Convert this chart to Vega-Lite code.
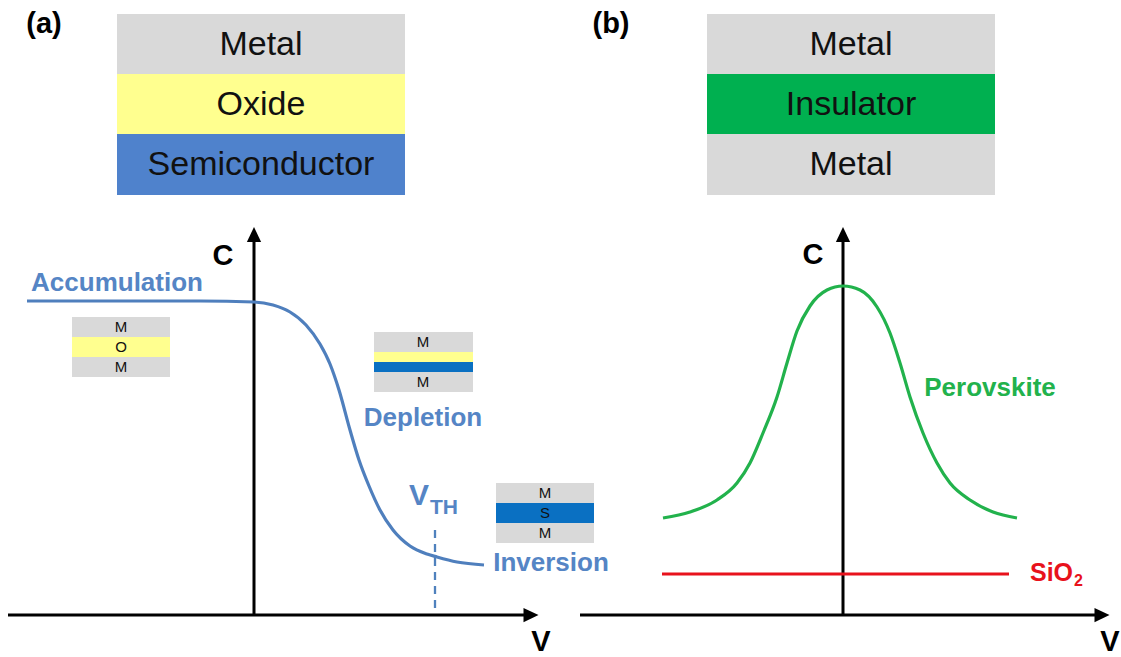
{
  "$schema": "https://vega.github.io/schema/vega-lite/v6.json",
  "width": 1121,
  "height": 657,
  "autosize": {"type": "fit", "contains": "padding"},
  "padding": 0,
  "background": "white",
  "config": {"view": {"stroke": null}, "text": {"font": "Liberation Sans"}},
  "datasets": {
    "blocks": [
      {"x1": 117, "x2": 405, "y1": 14, "y2": 74, "layer": "Metal"},
      {"x1": 117, "x2": 405, "y1": 74, "y2": 134, "layer": "Oxide"},
      {"x1": 117, "x2": 405, "y1": 134, "y2": 195, "layer": "Semiconductor"},
      {"x1": 707, "x2": 995, "y1": 14, "y2": 74, "layer": "Metal"},
      {"x1": 707, "x2": 995, "y1": 74, "y2": 134, "layer": "Insulator"},
      {"x1": 707, "x2": 995, "y1": 134, "y2": 195, "layer": "Metal"},
      {"x1": 72, "x2": 170, "y1": 317, "y2": 337, "layer": "Metal"},
      {"x1": 72, "x2": 170, "y1": 337, "y2": 357, "layer": "Oxide"},
      {"x1": 72, "x2": 170, "y1": 357, "y2": 377, "layer": "Metal"},
      {"x1": 374, "x2": 473, "y1": 332, "y2": 352, "layer": "Metal"},
      {"x1": 374, "x2": 473, "y1": 352, "y2": 362, "layer": "Oxide"},
      {"x1": 374, "x2": 473, "y1": 362, "y2": 372, "layer": "S"},
      {"x1": 374, "x2": 473, "y1": 372, "y2": 392, "layer": "Metal"},
      {"x1": 496, "x2": 594, "y1": 483, "y2": 503, "layer": "Metal"},
      {"x1": 496, "x2": 594, "y1": 503, "y2": 523, "layer": "S"},
      {"x1": 496, "x2": 594, "y1": 523, "y2": 543, "layer": "Metal"}
    ],
    "curves": [
      {"series": "MOS", "x": 27, "y": 301},
      {"series": "MOS", "x": 120, "y": 301},
      {"series": "MOS", "x": 200, "y": 301},
      {"series": "MOS", "x": 254, "y": 302},
      {"series": "MOS", "x": 273, "y": 305},
      {"series": "MOS", "x": 290, "y": 312},
      {"series": "MOS", "x": 306, "y": 325},
      {"series": "MOS", "x": 320, "y": 344},
      {"series": "MOS", "x": 330, "y": 364},
      {"series": "MOS", "x": 339, "y": 390},
      {"series": "MOS", "x": 350, "y": 430},
      {"series": "MOS", "x": 359, "y": 460},
      {"series": "MOS", "x": 369, "y": 486},
      {"series": "MOS", "x": 380, "y": 510},
      {"series": "MOS", "x": 393, "y": 530},
      {"series": "MOS", "x": 410, "y": 546},
      {"series": "MOS", "x": 427, "y": 554},
      {"series": "MOS", "x": 437, "y": 557},
      {"series": "MOS", "x": 457, "y": 562},
      {"series": "MOS", "x": 484, "y": 565},
      {"series": "Perovskite", "x": 663, "y": 518},
      {"series": "Perovskite", "x": 690, "y": 512},
      {"series": "Perovskite", "x": 717, "y": 500},
      {"series": "Perovskite", "x": 737, "y": 483},
      {"series": "Perovskite", "x": 750, "y": 463},
      {"series": "Perovskite", "x": 763, "y": 433},
      {"series": "Perovskite", "x": 777, "y": 397},
      {"series": "Perovskite", "x": 787, "y": 363},
      {"series": "Perovskite", "x": 797, "y": 331},
      {"series": "Perovskite", "x": 810, "y": 306},
      {"series": "Perovskite", "x": 827, "y": 290},
      {"series": "Perovskite", "x": 843, "y": 286},
      {"series": "Perovskite", "x": 860, "y": 290},
      {"series": "Perovskite", "x": 877, "y": 307},
      {"series": "Perovskite", "x": 890, "y": 333},
      {"series": "Perovskite", "x": 900, "y": 363},
      {"series": "Perovskite", "x": 910, "y": 397},
      {"series": "Perovskite", "x": 923, "y": 433},
      {"series": "Perovskite", "x": 937, "y": 463},
      {"series": "Perovskite", "x": 950, "y": 483},
      {"series": "Perovskite", "x": 970, "y": 500},
      {"series": "Perovskite", "x": 993, "y": 512},
      {"series": "Perovskite", "x": 1017, "y": 518},
      {"series": "SiO2", "x": 662, "y": 574},
      {"series": "SiO2", "x": 1009, "y": 574}
    ],
    "axes": [
      {"x": 8, "y": 615, "x2": 531, "y2": 615},
      {"x": 254, "y": 615, "x2": 254, "y2": 234},
      {"x": 580, "y": 615, "x2": 1102, "y2": 615},
      {"x": 843, "y": 615, "x2": 843, "y2": 234}
    ],
    "upArrows": [
      {"x": 254, "y": 234.5},
      {"x": 843, "y": 234.5}
    ],
    "rightArrows": [
      {"x": 531, "y": 615},
      {"x": 1102, "y": 615}
    ],
    "vth": [
      {"x": 435, "y": 530, "y2": 613}
    ],
    "bigLabels": [
      {"x": 261, "y": 45, "label": "Metal"},
      {"x": 261, "y": 105, "label": "Oxide"},
      {"x": 261, "y": 165, "label": "Semiconductor"},
      {"x": 851, "y": 45, "label": "Metal"},
      {"x": 851, "y": 105, "label": "Insulator"},
      {"x": 851, "y": 165, "label": "Metal"}
    ],
    "smallLabels": [
      {"x": 121, "y": 327, "label": "M"},
      {"x": 121, "y": 347, "label": "O"},
      {"x": 121, "y": 367, "label": "M"},
      {"x": 423, "y": 342, "label": "M"},
      {"x": 423, "y": 382, "label": "M"},
      {"x": 545, "y": 493, "label": "M"},
      {"x": 545, "y": 513, "label": "S"},
      {"x": 545, "y": 533, "label": "M"}
    ],
    "boldLabels": [
      {"x": 44, "y": 24, "label": "(a)"},
      {"x": 611, "y": 24, "label": "(b)"},
      {"x": 223, "y": 256, "label": "C"},
      {"x": 813, "y": 255, "label": "C"},
      {"x": 541, "y": 642, "label": "V"},
      {"x": 1110, "y": 642, "label": "V"}
    ],
    "regimes": [
      {"x": 117, "y": 283, "label": "Accumulation"},
      {"x": 423, "y": 418, "label": "Depletion"},
      {"x": 551, "y": 563, "label": "Inversion"}
    ],
    "vthMain": [{"x": 419, "y": 496, "label": "V"}],
    "vthSub": [{"x": 444, "y": 508, "label": "TH"}],
    "perov": [{"x": 990, "y": 388, "label": "Perovskite"}],
    "sio": [{"x": 1030, "y": 573, "label": "SiO"}],
    "sioSub": [{"x": 1074, "y": 581, "label": "2"}]
  },
  "layer": [
    {
      "data": {"name": "blocks"},
      "mark": {"type": "rect"},
      "encoding": {
        "x": {"field": "x1", "type": "quantitative", "scale": {"domain": [0, 1121], "nice": false, "zero": false}, "axis": null},
        "x2": {"field": "x2"},
        "y": {"field": "y1", "type": "quantitative", "scale": {"domain": [0, 657], "reverse": true, "nice": false, "zero": false}, "axis": null},
        "y2": {"field": "y2"},
        "fill": {"field": "layer", "type": "nominal", "scale": {"domain": ["Metal", "Oxide", "Semiconductor", "Insulator", "S"], "range": ["#d9d9d9", "#ffff8f", "#4f82cc", "#00b050", "#0a70c2"]}, "legend": null}
      }
    },
    {
      "data": {"name": "axes"},
      "mark": {"type": "rule", "color": "black", "strokeWidth": 3},
      "encoding": {
        "x": {"field": "x", "type": "quantitative"},
        "y": {"field": "y", "type": "quantitative"},
        "x2": {"field": "x2"},
        "y2": {"field": "y2"}
      }
    },
    {
      "data": {"name": "vth"},
      "mark": {"type": "rule", "color": "#4f81bd", "strokeWidth": 2.3, "strokeDash": [8, 6]},
      "encoding": {
        "x": {"field": "x", "type": "quantitative"},
        "y": {"field": "y", "type": "quantitative"},
        "y2": {"field": "y2"}
      }
    },
    {
      "data": {"name": "curves"},
      "mark": {"type": "line", "strokeWidth": 3.2, "interpolate": "monotone"},
      "encoding": {
        "x": {"field": "x", "type": "quantitative"},
        "y": {"field": "y", "type": "quantitative"},
        "stroke": {"field": "series", "type": "nominal", "scale": {"domain": ["MOS", "Perovskite", "SiO2"], "range": ["#4f7fbd", "#22b24c", "#e8121c"]}, "legend": null}
      }
    },
    {
      "data": {"name": "upArrows"},
      "mark": {"type": "point", "shape": "M0,-1L0.95,1L-0.95,1Z", "size": 225, "filled": true, "color": "black", "opacity": 1, "strokeWidth": 0},
      "encoding": {
        "x": {"field": "x", "type": "quantitative"},
        "y": {"field": "y", "type": "quantitative"}
      }
    },
    {
      "data": {"name": "rightArrows"},
      "mark": {"type": "point", "shape": "M1,0L-1,-0.95L-1,0.95Z", "size": 225, "filled": true, "color": "black", "opacity": 1, "strokeWidth": 0},
      "encoding": {
        "x": {"field": "x", "type": "quantitative"},
        "y": {"field": "y", "type": "quantitative"}
      }
    },
    {
      "data": {"name": "bigLabels"},
      "mark": {"type": "text", "fontSize": 34, "color": "#111111", "align": "center", "baseline": "middle"},
      "encoding": {
        "x": {"field": "x", "type": "quantitative"},
        "y": {"field": "y", "type": "quantitative"},
        "text": {"field": "label"}
      }
    },
    {
      "data": {"name": "smallLabels"},
      "mark": {"type": "text", "fontSize": 15, "color": "#111111", "align": "center", "baseline": "middle"},
      "encoding": {
        "x": {"field": "x", "type": "quantitative"},
        "y": {"field": "y", "type": "quantitative"},
        "text": {"field": "label"}
      }
    },
    {
      "data": {"name": "boldLabels"},
      "mark": {"type": "text", "fontSize": 29, "fontWeight": "bold", "color": "black", "align": "center", "baseline": "middle"},
      "encoding": {
        "x": {"field": "x", "type": "quantitative"},
        "y": {"field": "y", "type": "quantitative"},
        "text": {"field": "label"}
      }
    },
    {
      "data": {"name": "regimes"},
      "mark": {"type": "text", "fontSize": 26, "fontWeight": "bold", "color": "#5585c5", "align": "center", "baseline": "middle"},
      "encoding": {
        "x": {"field": "x", "type": "quantitative"},
        "y": {"field": "y", "type": "quantitative"},
        "text": {"field": "label"}
      }
    },
    {
      "data": {"name": "vthMain"},
      "mark": {"type": "text", "fontSize": 30, "fontWeight": "bold", "color": "#5585c5", "align": "center", "baseline": "middle"},
      "encoding": {
        "x": {"field": "x", "type": "quantitative"},
        "y": {"field": "y", "type": "quantitative"},
        "text": {"field": "label"}
      }
    },
    {
      "data": {"name": "vthSub"},
      "mark": {"type": "text", "fontSize": 21, "fontWeight": "bold", "color": "#5585c5", "align": "center", "baseline": "middle"},
      "encoding": {
        "x": {"field": "x", "type": "quantitative"},
        "y": {"field": "y", "type": "quantitative"},
        "text": {"field": "label"}
      }
    },
    {
      "data": {"name": "perov"},
      "mark": {"type": "text", "fontSize": 26, "fontWeight": "bold", "color": "#22b24c", "align": "center", "baseline": "middle"},
      "encoding": {
        "x": {"field": "x", "type": "quantitative"},
        "y": {"field": "y", "type": "quantitative"},
        "text": {"field": "label"}
      }
    },
    {
      "data": {"name": "sio"},
      "mark": {"type": "text", "fontSize": 25, "fontWeight": "bold", "color": "#e8121c", "align": "left", "baseline": "middle"},
      "encoding": {
        "x": {"field": "x", "type": "quantitative"},
        "y": {"field": "y", "type": "quantitative"},
        "text": {"field": "label"}
      }
    },
    {
      "data": {"name": "sioSub"},
      "mark": {"type": "text", "fontSize": 16, "fontWeight": "bold", "color": "#e8121c", "align": "left", "baseline": "middle"},
      "encoding": {
        "x": {"field": "x", "type": "quantitative"},
        "y": {"field": "y", "type": "quantitative"},
        "text": {"field": "label"}
      }
    }
  ]
}
